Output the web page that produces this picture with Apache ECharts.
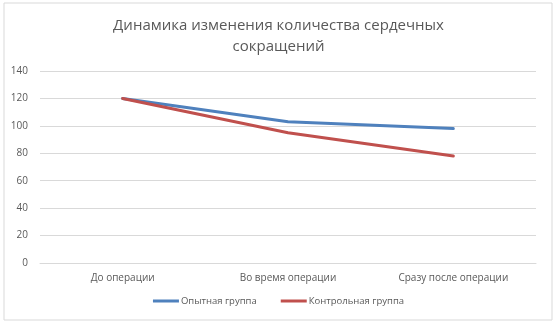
<!DOCTYPE html>
<html>
<head>
<meta charset="utf-8">
<script src="https://cdn.jsdelivr.net/npm/echarts@6/dist/echarts.min.js"></script>
<style>
  html, body { margin: 0; padding: 0; background: #fff; }
  #main { width: 557px; height: 325px; }
</style>
</head>
<body>
<div id="main"></div>
<script>
// data
const categories = ['До операции', 'Во время операции', 'Сразу после операции'];
const opytnaya = [120, 103, 98];
const kontrolnaya = [120, 95, 78];
const seriesNames = ['Опытная группа', 'Контрольная группа'];

const chart = echarts.init(document.getElementById('main'));

const textColor = '#595959';
const font = '"Open Sans", "Liberation Sans", sans-serif';

const option = {
  animation: false,
  graphic: [{
    type: 'rect',
    shape: { x: 4, y: 3, width: 548, height: 317 },
    style: { fill: 'none', stroke: '#d9d9d9', lineWidth: 1 },
    silent: true
  }],
  title: {
    text: 'Динамика изменения количества сердечных\nсокращений',
    left: 'center',
    top: 10,
    textStyle: {
      fontSize: 15,
      fontWeight: 'normal',
      color: textColor,
      fontFamily: font,
      lineHeight: 21
    }
  },
  legend: {
    bottom: 14,
    left: 'center',
    itemWidth: 26,
    itemHeight: 3,
    itemGap: 24,
    icon: 'rect',
    data: seriesNames,
    textStyle: { fontSize: 9.5, color: textColor, fontFamily: font, padding: [0, 0, 0, -3] }
  },
  grid: {
    left: 40,
    right: 21,
    top: 71,
    bottom: 62
  },
  xAxis: {
    type: 'category',
    data: categories,
    boundaryGap: true,
    axisLine: { show: true, lineStyle: { color: '#d9d9d9' } },
    axisTick: { show: false },
    axisLabel: { color: textColor, fontSize: 10, fontFamily: font, margin: 10 }
  },
  yAxis: {
    type: 'value',
    min: 0,
    max: 140,
    interval: 20,
    axisLine: { show: false },
    axisTick: { show: false },
    axisLabel: { color: textColor, fontSize: 10, fontFamily: font, margin: 12 },
    splitLine: { lineStyle: { color: '#d9d9d9', width: 1 } }
  },
  series: [
    {
      name: seriesNames[0],
      type: 'line',
      data: opytnaya,
      symbol: 'none',
      itemStyle: { color: '#4F81BD' },
      lineStyle: { color: '#4F81BD', width: 3, cap: 'round' }
    },
    {
      name: seriesNames[1],
      type: 'line',
      data: kontrolnaya,
      symbol: 'none',
      itemStyle: { color: '#C0504D' },
      lineStyle: { color: '#C0504D', width: 3, cap: 'round' }
    }
  ]
};

chart.setOption(option);
</script>
</body>
</html>
